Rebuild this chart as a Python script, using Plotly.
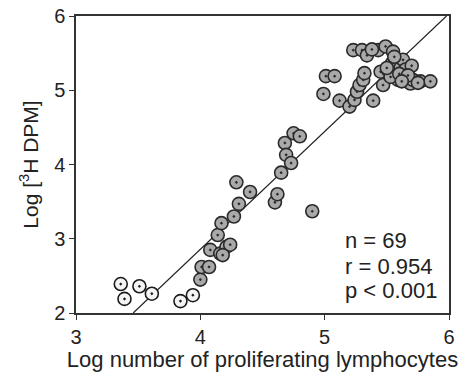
import plotly.graph_objects as go

# Low points (white fill)
x_low = [3.36, 3.39, 3.51, 3.61, 3.84, 3.94]
y_low = [2.39, 2.19, 2.36, 2.26, 2.16, 2.24]

# Remaining points (grey fill)
x_pts = [4.00, 4.01, 4.07, 4.08, 4.16, 4.14, 4.17, 4.21, 4.24, 4.27,
         4.31, 4.29, 4.40, 4.60, 4.62, 4.65, 4.68, 4.69, 4.73, 4.75,
         4.80, 4.90, 4.99, 5.01, 5.08, 5.12, 5.20, 5.24, 5.26, 5.28,
         5.31, 5.32, 5.39, 5.23, 5.30, 5.34, 5.43, 5.49, 5.55, 5.47,
         5.45, 5.51, 5.54, 5.58, 5.61, 5.63, 5.65, 5.59, 5.65, 5.69,
         5.71, 5.77, 5.85, 5.53, 5.70, 5.50, 5.60, 5.67, 5.38, 5.56,
         5.62, 5.75, 4.18]
y_pts = [2.45, 2.62, 2.62, 2.85, 2.80, 3.05, 3.21, 2.89, 2.92, 3.30,
         3.47, 3.76, 3.63, 3.49, 3.60, 3.89, 4.29, 4.13, 4.02, 4.42,
         4.38, 3.37, 4.95, 5.19, 5.19, 4.86, 4.78, 4.87, 4.98, 5.07,
         5.14, 5.23, 4.86, 5.54, 5.54, 5.47, 5.54, 5.59, 5.52, 5.07,
         5.25, 5.27, 5.36, 5.39, 5.30, 5.41, 5.28, 5.14, 5.14, 5.09,
         5.14, 5.12, 5.12, 5.18, 5.33, 5.30, 5.22, 5.20, 5.55, 5.45,
         5.12, 5.10, 2.78]

# Regression line endpoints
x_fit = [3.46, 5.98]
y_fit = [2.00, 6.00]

x_ticks = [3, 4, 5, 6]
y_ticks = [2, 3, 4, 5, 6]

stats_text = ["n = 69", "r = 0.954", "p < 0.001"]
stats_y = [2.97, 2.63, 2.30]

FONT = "Liberation Sans, Arial"

fig = go.Figure()
fig.add_trace(go.Scatter(x=x_fit, y=y_fit, mode="lines",
                         line=dict(color="#222", width=1.2), showlegend=False))
fig.add_trace(go.Scatter(x=x_pts, y=y_pts, mode="markers", showlegend=False,
                         marker=dict(symbol="circle-dot", size=13, color="#a9a9a9",
                                     line=dict(color="#2a2a2a", width=1.6))))
fig.add_trace(go.Scatter(x=x_low, y=y_low, mode="markers", showlegend=False,
                         marker=dict(symbol="circle-dot", size=13, color="#f4f4f4",
                                     line=dict(color="#1a1a1a", width=1.6))))

for t, yy in zip(stats_text, stats_y):
    fig.add_annotation(x=5.15, y=yy, xref="x", yref="y", xanchor="left", yanchor="middle",
                       text=t, align="left", showarrow=False,
                       font=dict(family=FONT, size=22, color="#222"))

fig.update_layout(
    width=463, height=372,
    margin=dict(l=76, r=14, t=16, b=59, autoexpand=False),
    paper_bgcolor="white", plot_bgcolor="white",
    font=dict(family=FONT, size=20, color="#222"),
)
fig.update_xaxes(range=[3, 6], tickvals=x_ticks, ticks="outside", ticklen=5,
                 tickcolor="#333", showline=True, linecolor="#333", linewidth=1.5,
                 mirror=True, showgrid=False, zeroline=False, automargin=False,
                 tickfont=dict(size=20),
                 title=dict(text="Log number of proliferating lymphocytes",
                            font=dict(size=22), standoff=2))
fig.update_yaxes(range=[2, 6], tickvals=y_ticks, ticks="outside", ticklen=5,
                 tickcolor="#333", showline=True, linecolor="#333", linewidth=1.5,
                 mirror=True, showgrid=False, zeroline=False, automargin=False,
                 tickfont=dict(size=20),
                 title=dict(text="Log [<sup>3</sup>H DPM]", font=dict(size=21), standoff=10))

fig.write_html("out.html")
